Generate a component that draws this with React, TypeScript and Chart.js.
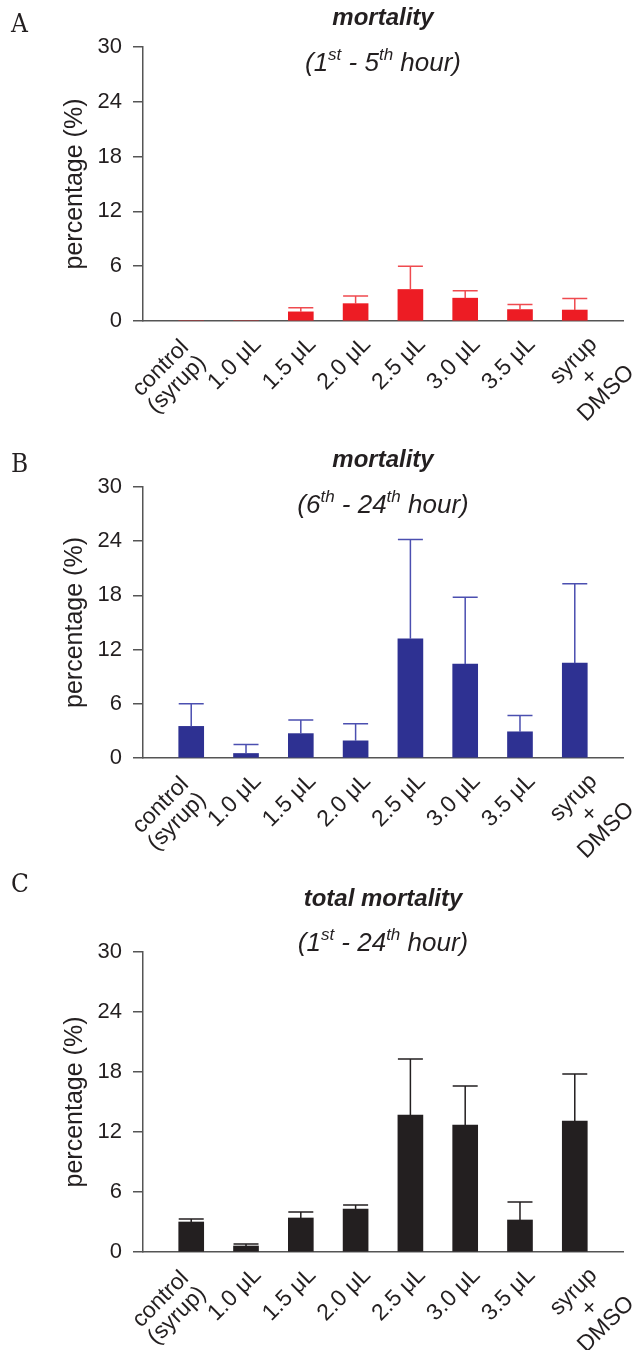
import React, { useEffect, useRef } from "react";
import { Chart, registerables } from "chart.js";

Chart.register(...registerables);

// ---------- data ----------
const categories: string[][] = [
  ["control", "(syrup)"],
  ["1.0 μL"],
  ["1.5 μL"],
  ["2.0 μL"],
  ["2.5 μL"],
  ["3.0 μL"],
  ["3.5 μL"],
  ["syrup", "+", "DMSO"],
];
const yTicks = [0, 6, 12, 18, 24, 30];

// A: mortality 1st - 5th hour (mean, upper end of error bar)
const mortality1to5 = [0, 0, 1.0, 1.9, 3.45, 2.5, 1.25, 1.2];
const mortality1to5Upper = [0, 0, 1.45, 2.75, 6.0, 3.3, 1.8, 2.45];
// B: mortality 6th - 24th hour
const mortality6to24 = [3.5, 0.5, 2.7, 1.9, 13.2, 10.4, 2.9, 10.5];
const mortality6to24Upper = [6.0, 1.5, 4.2, 3.8, 24.2, 17.8, 4.7, 19.3];
// C: total mortality 1st - 24th hour
const totalMortality = [3.0, 0.6, 3.4, 4.3, 13.7, 12.7, 3.2, 13.1];
const totalMortalityUpper = [3.3, 0.8, 4.0, 4.7, 19.3, 16.6, 5.0, 17.8];

// label block placement (style): [shift along text, shift perpendicular], px
const labelPlacement: number[][] = [
  [-55, 23.5],
  [-38, 22],
  [-38, 22],
  [-38, 22],
  [-38, 22],
  [-38, 22],
  [-38, 22],
  [-29, 50.5],
];

const SANS = '"Liberation Sans", Arial, Helvetica, sans-serif';
const TEXT = "#231f20";
const AXIS = "#555555";

type Seg = { t: string; sup?: boolean };
type Panel = {
  letter: string;
  top: number;
  height: number;
  padTop: number;
  xAxisHeight: number;
  values: number[];
  upper: number[];
  color: string;
  errColor: string;
  title1: string;
  title1Y: number;
  title2: Seg[];
  title2Y: number;
  letterY: number;
};

const panels: Panel[] = [
  {
    letter: "A", top: 0, height: 440, padTop: 47, xAxisHeight: 119,
    values: mortality1to5, upper: mortality1to5Upper,
    color: "#ed1c24", errColor: "#ef4a4f",
    title1: "mortality", title1Y: 18,
    title2: [{ t: "(1" }, { t: "st", sup: true }, { t: " - 5" }, { t: "th", sup: true }, { t: " hour)" }],
    title2Y: 62, letterY: 23,
  },
  {
    letter: "B", top: 440, height: 430, padTop: 47, xAxisHeight: 112,
    values: mortality6to24, upper: mortality6to24Upper,
    color: "#2e3192", errColor: "#4b4fb0",
    title1: "mortality", title1Y: 20,
    title2: [{ t: "(6" }, { t: "th", sup: true }, { t: " - 24" }, { t: "th", sup: true }, { t: " hour)" }],
    title2Y: 64, letterY: 23,
  },
  {
    letter: "C", top: 870, height: 480, padTop: 82, xAxisHeight: 98,
    values: totalMortality, upper: totalMortalityUpper,
    color: "#231f20", errColor: "#231f20",
    title1: "total mortality", title1Y: 29,
    title2: [{ t: "(1" }, { t: "st", sup: true }, { t: " - 24" }, { t: "th", sup: true }, { t: " hour)" }],
    title2Y: 72, letterY: 13,
  },
];

// ---------- plugins ----------
const errorBarsPlugin = {
  id: "errorBars",
  afterDatasetsDraw(chart: any, _args: any, opts: any) {
    const meta = chart.getDatasetMeta(0);
    const ys = chart.scales.y;
    const ctx = chart.ctx;
    ctx.save();
    ctx.strokeStyle = opts.color;
    ctx.lineWidth = 1.5;
    meta.data.forEach((bar: any, i: number) => {
      const up = opts.upper[i];
      const v = chart.data.datasets[0].data[i].y;
      if (!(up > v)) return;
      const yTop = ys.getPixelForValue(up);
      const half = bar.width / 2;
      ctx.beginPath();
      ctx.moveTo(bar.x, bar.y);
      ctx.lineTo(bar.x, yTop);
      ctx.moveTo(bar.x - half, yTop);
      ctx.lineTo(bar.x + half, yTop);
      ctx.stroke();
    });
    ctx.restore();
  },
};

const xLabelsPlugin = {
  id: "xLabels",
  afterDraw(chart: any, _args: any, opts: any) {
    const xs = chart.scales.x;
    const ctx = chart.ctx;
    const bottom = chart.chartArea.bottom;
    const k = Math.SQRT1_2;
    ctx.save();
    ctx.font = `${opts.size}px ${SANS}`;
    ctx.fillStyle = TEXT;
    ctx.textAlign = "center";
    ctx.textBaseline = "middle";
    opts.labels.forEach((lines: string[], i: number) => {
      const px = xs.getPixelForValue(i);
      const [along, perp] = opts.placement[i];
      const cx = px + k * (along + perp);
      const cy = bottom + k * (perp - along);
      ctx.save();
      ctx.translate(cx, cy);
      ctx.rotate(-Math.PI / 4);
      const n = lines.length;
      lines.forEach((l, j) => ctx.fillText(l, 0, (j - (n - 1) / 2) * opts.lineHeight));
      ctx.restore();
    });
    ctx.restore();
  },
};

const richTitlePlugin = {
  id: "richTitle",
  afterDraw(chart: any, _args: any, opts: any) {
    const ctx = chart.ctx;
    const cx = (chart.chartArea.left + chart.chartArea.right) / 2;
    ctx.save();
    ctx.fillStyle = TEXT;
    ctx.textBaseline = "middle";
    ctx.textAlign = "center";
    ctx.font = `italic bold 24px ${SANS}`;
    ctx.fillText(opts.title1, cx, opts.title1Y);
    // second line with superscripts
    const mainFont = `italic 26px ${SANS}`;
    const supFont = `italic 17px ${SANS}`;
    let total = 0;
    const widths = opts.title2.map((s: Seg) => {
      ctx.font = s.sup ? supFont : mainFont;
      const w = ctx.measureText(s.t).width;
      total += w;
      return w;
    });
    let x = cx - total / 2;
    ctx.textAlign = "left";
    ctx.textBaseline = "alphabetic";
    const base = opts.title2Y + 9;
    opts.title2.forEach((s: Seg, i: number) => {
      ctx.font = s.sup ? supFont : mainFont;
      ctx.fillText(s.t, x, s.sup ? base - 11 : base);
      x += widths[i];
    });
    ctx.restore();
  },
};

function PanelChart({ p }: { p: Panel }) {
  const ref = useRef<HTMLCanvasElement | null>(null);
  useEffect(() => {
    if (!ref.current) return;
    const chart = new Chart(ref.current, {
      type: "bar",
      data: {
        datasets: [
          {
            data: p.values.map((v, i) => ({ x: i, y: v })),
            backgroundColor: p.color,
            borderWidth: 0,
            barThickness: 25,
          },
        ],
      },
      options: {
        animation: false,
        responsive: false,
        maintainAspectRatio: false,
        devicePixelRatio: 1,
        layout: { padding: { top: p.padTop, left: 0, right: 12, bottom: 0 } },
        plugins: {
          legend: { display: false },
          tooltip: { enabled: false },
          title: { display: false },
          errorBars: { upper: p.upper, color: p.errColor },
          xLabels: { labels: categories, placement: labelPlacement, size: 23, lineHeight: 23 },
          richTitle: { title1: p.title1, title1Y: p.title1Y, title2: p.title2, title2Y: p.title2Y },
        } as any,
        scales: {
          x: {
            type: "linear",
            min: -0.88,
            max: 7.88,
            offset: false,
            afterBuildTicks: (s: any) => {
              s.ticks = categories.map((_, i) => ({ value: i }));
            },
            ticks: { display: false },
            grid: { display: false },
            border: { display: true, color: AXIS, width: 1.5 },
            afterFit: (s: any) => {
              s.height = p.xAxisHeight;
            },
          },
          y: {
            min: 0,
            max: 30,
            afterBuildTicks: (s: any) => {
              s.ticks = yTicks.map((v) => ({ value: v }));
            },
            ticks: { font: { family: SANS, size: 22 }, color: TEXT, padding: 11 },
            grid: {
              display: true,
              drawOnChartArea: false,
              drawTicks: true,
              tickLength: 10,
              color: AXIS,
              lineWidth: 1.5,
            },
            border: { display: true, color: AXIS, width: 1.5 },
            title: {
              display: true,
              text: "percentage (%)",
              font: { family: SANS, size: 25 },
              color: TEXT,
              padding: 60,
            },
            afterFit: (s: any) => {
              s.width = 143;
            },
          },
        },
      } as any,
      plugins: [errorBarsPlugin, xLabelsPlugin, richTitlePlugin],
    });
    return () => chart.destroy();
  }, [p]);

  return (
    <>
      <canvas
        ref={ref}
        width={635}
        height={p.height}
        style={{ position: "absolute", left: 0, top: p.top, width: 635, height: p.height }}
      />
      <div
        style={{
          position: "absolute",
          left: 11,
          top: p.top + p.letterY - 15,
          fontFamily: '"DejaVu Serif", "Liberation Serif", serif',
          fontStretch: "condensed",
          fontSize: 26,
          lineHeight: "30px",
          color: TEXT,
        }}
      >
        {p.letter}
      </div>
    </>
  );
}

export default function App() {
  return (
    <div
      style={{
        position: "absolute",
        left: 0,
        top: 0,
        width: 635,
        height: 1350,
        background: "#ffffff",
        overflow: "hidden",
      }}
    >
      {panels.map((p) => (
        <PanelChart key={p.letter} p={p} />
      ))}
    </div>
  );
}
